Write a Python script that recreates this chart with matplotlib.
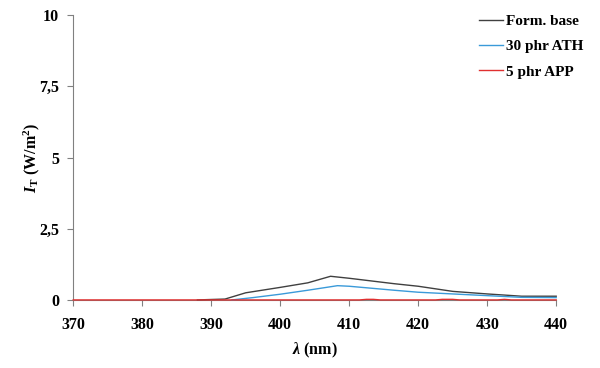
import numpy as np
import matplotlib
matplotlib.use("Agg")
from matplotlib import pyplot as plt
from matplotlib.ticker import FuncFormatter

# spectra (wavelength in nm, intensity in W/m2)
wl_base = [388, 392, 395, 400, 404, 407.3, 410, 416.5, 420, 425, 430, 435, 440]
it_base = [0, 0.03, 0.25, 0.44, 0.6, 0.83, 0.76, 0.57, 0.48, 0.3, 0.21, 0.13, 0.13]

wl_ath = [393, 396, 400, 404, 408.3, 410, 416.5, 420, 425, 430, 435, 440]
it_ath = [0, 0.08, 0.2, 0.34, 0.5, 0.48, 0.34, 0.27, 0.21, 0.15, 0.09, 0.08]

wl_app = [370, 411.5, 412.5, 413.5, 414.5, 422.5, 423.5, 425, 426, 431.5, 432.5, 433.5, 440]
it_app = [0, 0, 0.02, 0.02, 0, 0, 0.02, 0.02, 0, 0, 0.02, 0, 0]

plt.rcParams["font.family"] = "Liberation Serif"
plt.rcParams["font.weight"] = "bold"
plt.rcParams["mathtext.fontset"] = "custom"
plt.rcParams["mathtext.rm"] = "Liberation Serif:bold"
plt.rcParams["mathtext.it"] = "Liberation Serif:italic:bold"
plt.rcParams["mathtext.bf"] = "Liberation Serif:bold"

fig = plt.figure(figsize=(6, 3.68), dpi=100)
ax = fig.add_axes([0.122, 0.185, 0.805, 0.774])

ax.plot(wl_base, it_base, color="#404040", lw=1.0, label="Form. base", zorder=3, clip_on=False)
ax.plot(wl_ath, it_ath, color="#3a9ad9", lw=1.0, label="30 phr ATH", zorder=3, clip_on=False)
ax.plot(wl_app, it_app, color="#e03030", lw=1.0, label="5 phr APP", zorder=3, clip_on=False)

ax.set_xlim(370, 440)
ax.set_ylim(0, 10)
ax.set_xticks(np.arange(370, 441, 10))
ax.set_yticks([0, 2.5, 5, 7.5, 10])
ax.yaxis.set_major_formatter(FuncFormatter(lambda v, p: f"{v:g}".replace(".", ",")))

for s in ["top", "right"]:
    ax.spines[s].set_visible(False)
for s in ["left", "bottom"]:
    ax.spines[s].set_color("#808080")
ax.tick_params(colors="#808080", labelcolor="black", labelsize=11.5, length=4)
ax.tick_params(axis="x", pad=8)
ax.tick_params(axis="y", pad=6)

ax.set_xlabel(r"$\lambda$ (nm)", fontsize=11.5, fontweight="bold", labelpad=6)
ax.set_ylabel(r"$I_{\mathrm{T}}$ (W/m$^2$)", fontsize=11.5, fontweight="bold", labelpad=-2)

leg = ax.legend(loc="upper right", bbox_to_anchor=(1.085, 1.05), frameon=False,
                fontsize=11, handlelength=1.6, handletextpad=0.2, labelspacing=0.75)
for t in leg.get_texts():
    t.set_fontweight("bold")

fig.savefig("out.png", dpi=100)
